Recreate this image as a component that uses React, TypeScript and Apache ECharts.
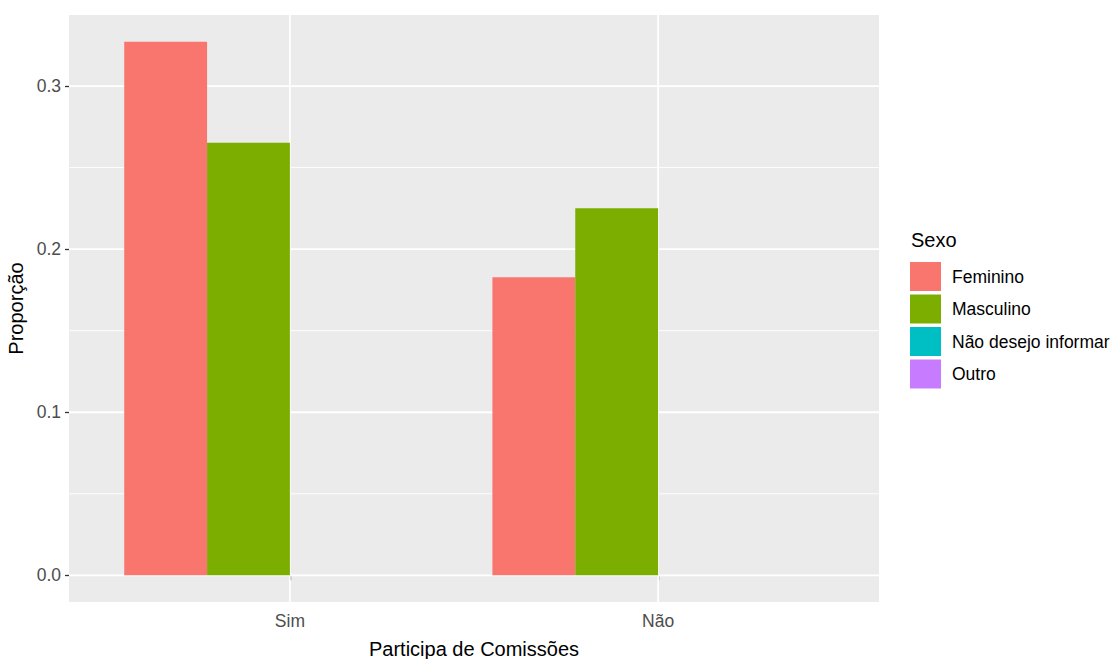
import React, { useEffect, useRef } from "react";
import * as echarts from "echarts";

const categories = ["Sim", "Não"];
const seriesNames = ["Feminino", "Masculino", "Não desejo informar", "Outro"];
const feminino = [0.3272, 0.1828];
const masculino = [0.2652, 0.225];
const naoDesejo = [0, 0];
const outro = [0, 0];
const seriesValues = [feminino, masculino, naoDesejo, outro];
const seriesColors = ["#F8766D", "#7CAE00", "#00BFC4", "#C77CFF"];
const yTicks = [0, 0.1, 0.2, 0.3];
const yMinorTicks = [0.05, 0.15, 0.25];

const FONT = "Liberation Sans, Arial, sans-serif";

export default function App() {
  const ref = useRef<HTMLDivElement>(null);
  useEffect(() => {
    document.body.style.margin = "0";
    if (!ref.current) return;
    const chart = echarts.init(ref.current, null, { renderer: "svg" });

    const allVals = seriesValues.flat();
    const dataMax = Math.max(...allVals);
    const dataMin = Math.min(0, ...allVals);
    const pad = (dataMax - dataMin) * 0.05;
    const yMin = dataMin - pad;
    const yMax = dataMax + pad;
    const xMin = 0.4;
    const xMax = categories.length + 0.6;
    const dodge = 0.9;
    const nGroups = seriesNames.length;
    const bw = dodge / nGroups;

    const barSeries = seriesNames.map((name, k) => ({
      type: "custom",
      name,
      z: 3,
      itemStyle: { color: seriesColors[k] },
      encode: { x: 0, y: 1 },
      data: seriesValues[k].map((v, i) => [i + 1, v]),
      renderItem: (params: any, api: any) => {
        const x = api.value(0);
        const y = api.value(1);
        const left = x - dodge / 2 + k * bw;
        const p0 = api.coord([left, y]);
        const p1 = api.coord([left + bw, 0]);
        return {
          type: "rect",
          shape: {
            x: p0[0],
            y: Math.min(p0[1], p1[1]),
            width: p1[0] - p0[0],
            height: Math.abs(p1[1] - p0[1]),
          },
          style: { fill: seriesColors[k] },
        };
      },
    }));

    const hLine = (values: number[], width: number) => ({
      type: "custom",
      silent: true,
      z: 1,
      encode: { x: 0, y: 1 },
      data: values.map((v) => [xMin, v]),
      renderItem: (params: any, api: any) => {
        const v = api.value(1);
        const a = api.coord([xMin, v]);
        const b = api.coord([xMax, v]);
        return {
          type: "line",
          shape: { x1: a[0], y1: a[1], x2: b[0], y2: b[1] },
          style: { stroke: "#FFFFFF", lineWidth: width },
        };
      },
    });

    const vLine = {
      type: "custom",
      silent: true,
      z: 1,
      encode: { x: 0, y: 1 },
      data: categories.map((c, i) => [i + 1, 0]),
      renderItem: (params: any, api: any) => {
        const x = api.value(0);
        const a = api.coord([x, yMin]);
        const b = api.coord([x, yMax]);
        return {
          type: "line",
          shape: { x1: a[0], y1: a[1], x2: b[0], y2: b[1] },
          style: { stroke: "#FFFFFF", lineWidth: 1.8 },
        };
      },
    };

    const catPositions = categories.map((c, i) => i + 1);

    chart.setOption({
      animation: false,
      title: {
        text: "Sexo",
        left: 911,
        top: 230,
        padding: 0,
        textStyle: { fontFamily: FONT, fontSize: 20, fontWeight: "normal", color: "#000" },
      },
      legend: {
        data: seriesNames.map((n, k) => ({ name: n, icon: "rect", itemStyle: { color: seriesColors[k] } })),
        orient: "vertical",
        left: 910,
        top: 262,
        padding: 0,
        itemWidth: 31,
        itemHeight: 29,
        itemGap: 3.5,
        selectedMode: false,
        textStyle: { fontFamily: FONT, fontSize: 17.5, color: "#000", padding: [0, 0, 0, 6] },
      },
      grid: {
        left: 69,
        top: 15,
        width: 810,
        height: 587,
        show: true,
        backgroundColor: "#EBEBEB",
        borderWidth: 0,
        containLabel: false,
        outerBoundsMode: "none",
      },
      xAxis: {
        type: "value",
        min: xMin,
        max: xMax,
        name: "Participa de Comissões",
        nameLocation: "middle",
        nameGap: 37,
        nameTextStyle: { fontFamily: FONT, fontSize: 20, color: "#000" },
        axisLine: { show: false },
        splitLine: { show: false },
        axisTick: { show: true, customValues: catPositions, length: 5, lineStyle: { color: "#333333", width: 1.3 } },
        axisLabel: {
          customValues: catPositions,
          margin: 10,
          fontFamily: FONT,
          fontSize: 17.5,
          color: "#4D4D4D",
          formatter: (v: number) => categories[Math.round(v) - 1] ?? "",
        },
      },
      yAxis: {
        type: "value",
        min: yMin,
        max: yMax,
        name: "Proporção",
        nameLocation: "middle",
        nameGap: 41,
        nameTextStyle: { fontFamily: FONT, fontSize: 20, color: "#000" },
        axisLine: { show: false },
        splitLine: { show: false },
        axisTick: { show: true, customValues: yTicks, length: 4, lineStyle: { color: "#333333", width: 1.3 } },
        axisLabel: {
          customValues: yTicks,
          margin: 8,
          fontFamily: FONT,
          fontSize: 17.5,
          color: "#4D4D4D",
          formatter: (v: number) => v.toFixed(1),
        },
      },
      series: [hLine(yMinorTicks, 0.9), hLine(yTicks, 1.8), vLine, ...barSeries],
    });
    return () => chart.dispose();
  }, []);
  return <div ref={ref} style={{ width: 1118, height: 659 }} />;
}
